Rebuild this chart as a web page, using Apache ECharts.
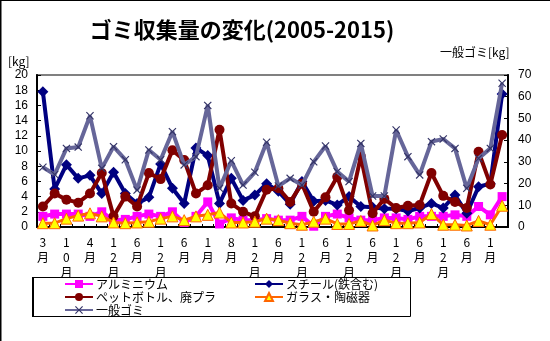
<!DOCTYPE html>
<html><head><meta charset="utf-8">
<script src="https://cdn.jsdelivr.net/npm/echarts@6/dist/echarts.min.js"></script>
<style>html,body{margin:0;padding:0;background:#fff}#c{width:550px;height:341px}</style>
</head><body><div id="c"></div>
<script>
const categories = ['3月','','10月','','4月','','12月','','6月','','12月','','6月','','1月','','8月','','12月','',
  '6月','','12月','','6月','','12月','','6月','','12月','','6月','','12月','','6月','','1月',''];
const leftTicks = [0,2,4,6,8,10,12,14,16,18,20];
const rightTicks = [0,10,20,30,40,50,60,70];
const aluminium = [1.4,1.7,1.7,1.7,1.4,2.0,0.9,1.0,1.4,1.7,1.4,2.0,0.6,1.4,3.3,0.4,1.2,0.9,0.9,1.1,0.9,0.9,1.4,0.1,1.4,1.7,1.2,0.9,0.9,1.2,1.2,1.0,1.4,1.4,1.4,1.6,1.4,2.7,1.6,4.0];
const steel = [17.8,5.0,8.2,6.4,6.8,4.4,7.2,4.4,3.1,3.9,8.3,5.1,3.1,10.4,9.4,3.1,6.4,3.5,4.2,5.7,4.7,3.0,6.0,3.4,3.5,2.9,4.0,2.7,2.6,2.4,2.4,2.1,2.5,3.1,2.5,4.2,1.8,5.3,5.7,17.5];
const pet = [2.7,4.4,3.6,3.2,4.4,7.1,1.4,4.0,2.7,7.1,6.3,10.1,8.8,4.4,5.5,12.8,3.1,2.0,1.4,4.9,5.1,3.3,5.7,2.0,3.9,6.6,2.2,9.3,1.8,3.7,2.5,2.8,2.9,7.1,4.1,3.3,2.5,9.9,5.6,12.1];
const glass = [0.5,0.5,1.1,1.5,1.8,1.4,0.6,0.5,0.6,0.7,1.1,1.4,0.9,1.4,1.6,1.9,0.6,0.6,0.7,1.1,0.9,0.5,0.3,0.7,1.1,0.4,0.4,0.8,0.2,0.9,0.5,0.5,0.6,1.7,0.3,0.3,0.2,0.8,0.3,2.8];
const general = [27.5,24.2,36.2,36.8,51.2,27,37,31,17,35.5,31,43.9,28.6,32.4,56,17.8,30.5,19.3,25.2,39,18.9,22.4,19.3,30,37.3,25.5,20.9,38.5,14.3,14.3,44.7,32.4,24,39.3,40.5,36.2,17.8,31.6,36.2,66.2];

const FONT = '"Noto Sans CJK JP", sans-serif';
const crossPath = 'path://M0,1L1,0L5,4L9,0L10,1L6,5L10,9L9,10L5,6L1,10L0,9L4,5Z';

const chart = echarts.init(document.getElementById('c'), null, {renderer:'canvas'});
chart.setOption({
  animation: false,
  backgroundColor: '#fff',
  textStyle: {fontFamily: FONT},
  title: {
    text: 'ゴミ収集量の変化(2005-2015)',
    left: 237, top: 14, textAlign: 'center',
    textStyle: {fontFamily: FONT, fontSize: 22, fontWeight: 'bold', color: '#000'}
  },
  graphic: [
    {type:'line', shape:{x1:0.5,y1:0,x2:0.5,y2:341}, style:{stroke:'#000', lineWidth:2}},
    {type:'line', shape:{x1:0,y1:0.5,x2:550,y2:0.5}, style:{stroke:'#000', lineWidth:1}},
    {type:'text', left: 8, top: 55, style:{text:'[kg]', fontFamily:FONT, fontSize:12, fill:'#000'}},
    {type:'text', left: 440, top: 46, style:{text:'一般ゴミ[kg]', fontFamily:FONT, fontSize:12, fill:'#000'}},
    {type:'rect', shape:{x:32.5,y:277.5,width:378,height:39}, style:{fill:'none', stroke:'#000', lineWidth:1}},
    {type:'line', shape:{x1:33,y1:277,x2:33,y2:317}, style:{stroke:'#000', lineWidth:2}}
  ],
  legend: [
    {left: 64, top: 278, padding: 0, orient:'vertical', itemWidth: 28, itemHeight: 10, itemGap: 1,
     textStyle:{fontFamily:FONT, fontSize:12, lineHeight:12, color:'#000', padding:[0,0,0,-2]},
     data:['アルミニウム','ペットボトル、廃プラ','一般ゴミ']},
    {left: 254, top: 278, padding: 0, orient:'vertical', itemWidth: 28, itemHeight: 10, itemGap: 1,
     textStyle:{fontFamily:FONT, fontSize:12, lineHeight:12, color:'#000', padding:[0,0,0,-2]},
     data:['スチール(鉄含む)','ガラス・陶磁器']}
  ],
  grid: {left: 37, right: 42, top: 75, bottom: 114, show: true, borderColor: '#808080', borderWidth: 2},
  xAxis: {
    type: 'category', data: categories, boundaryGap: true,
    axisLine: {lineStyle:{color:'#000', width:2}},
    axisTick: {show:true, inside:true, length:3, interval:0, lineStyle:{color:'#000'}},
    axisLabel: {interval: 0, margin: 8, fontSize: 12, lineHeight: 15, color:'#000', fontFamily: FONT,
      formatter: v => v.split('').join('\n')}
  },
  yAxis: [
    {type:'value', min:0, max:20, interval:2, position:'left',
     axisLine:{show:true, lineStyle:{color:'#000', width:2}},
     axisTick:{show:true, inside:true, length:4, lineStyle:{color:'#000'}},
     splitLine:{show:false},
     axisLabel:{margin:9, fontSize:12, color:'#000', fontFamily:'"Liberation Sans", sans-serif',
       formatter: v => leftTicks.includes(v) ? String(v) : ''}},
    {type:'value', min:0, max:70, interval:10, position:'right',
     axisLine:{show:true, lineStyle:{color:'#000', width:2}},
     axisTick:{show:true, inside:true, length:4, lineStyle:{color:'#000'}},
     splitLine:{show:false},
     axisLabel:{margin:10, fontSize:12, color:'#000', fontFamily:'"Liberation Sans", sans-serif',
       formatter: v => rightTicks.includes(v) ? String(v) : ''}}
  ],
  series: [
    {name:'アルミニウム', type:'line', data: aluminium, yAxisIndex:0,
     lineStyle:{color:'#FF00FF', width:4}, itemStyle:{color:'#FF00FF'},
     symbol:'rect', symbolSize:9, z:2},
    {name:'スチール(鉄含む)', type:'line', data: steel, yAxisIndex:0,
     lineStyle:{color:'#000080', width:4}, itemStyle:{color:'#000080'},
     symbol:'diamond', symbolSize:11, z:3},
    {name:'ペットボトル、廃プラ', type:'line', data: pet, yAxisIndex:0,
     lineStyle:{color:'#800000', width:4}, itemStyle:{color:'#800000'},
     symbol:'circle', symbolSize:10, z:4},
    {name:'ガラス・陶磁器', type:'line', data: glass, yAxisIndex:0,
     lineStyle:{color:'#FF6600', width:3}, itemStyle:{color:'#FFFF00', borderColor:'#FF6600', borderWidth:1},
     symbol:'triangle', symbolSize:11, z:5},
    {name:'一般ゴミ', type:'line', data: general, yAxisIndex:1,
     lineStyle:{color:'#666699', width:4}, itemStyle:{color:'#333366'},
     symbol: crossPath, symbolSize:8, z:6}
  ]
});
</script></body></html>
